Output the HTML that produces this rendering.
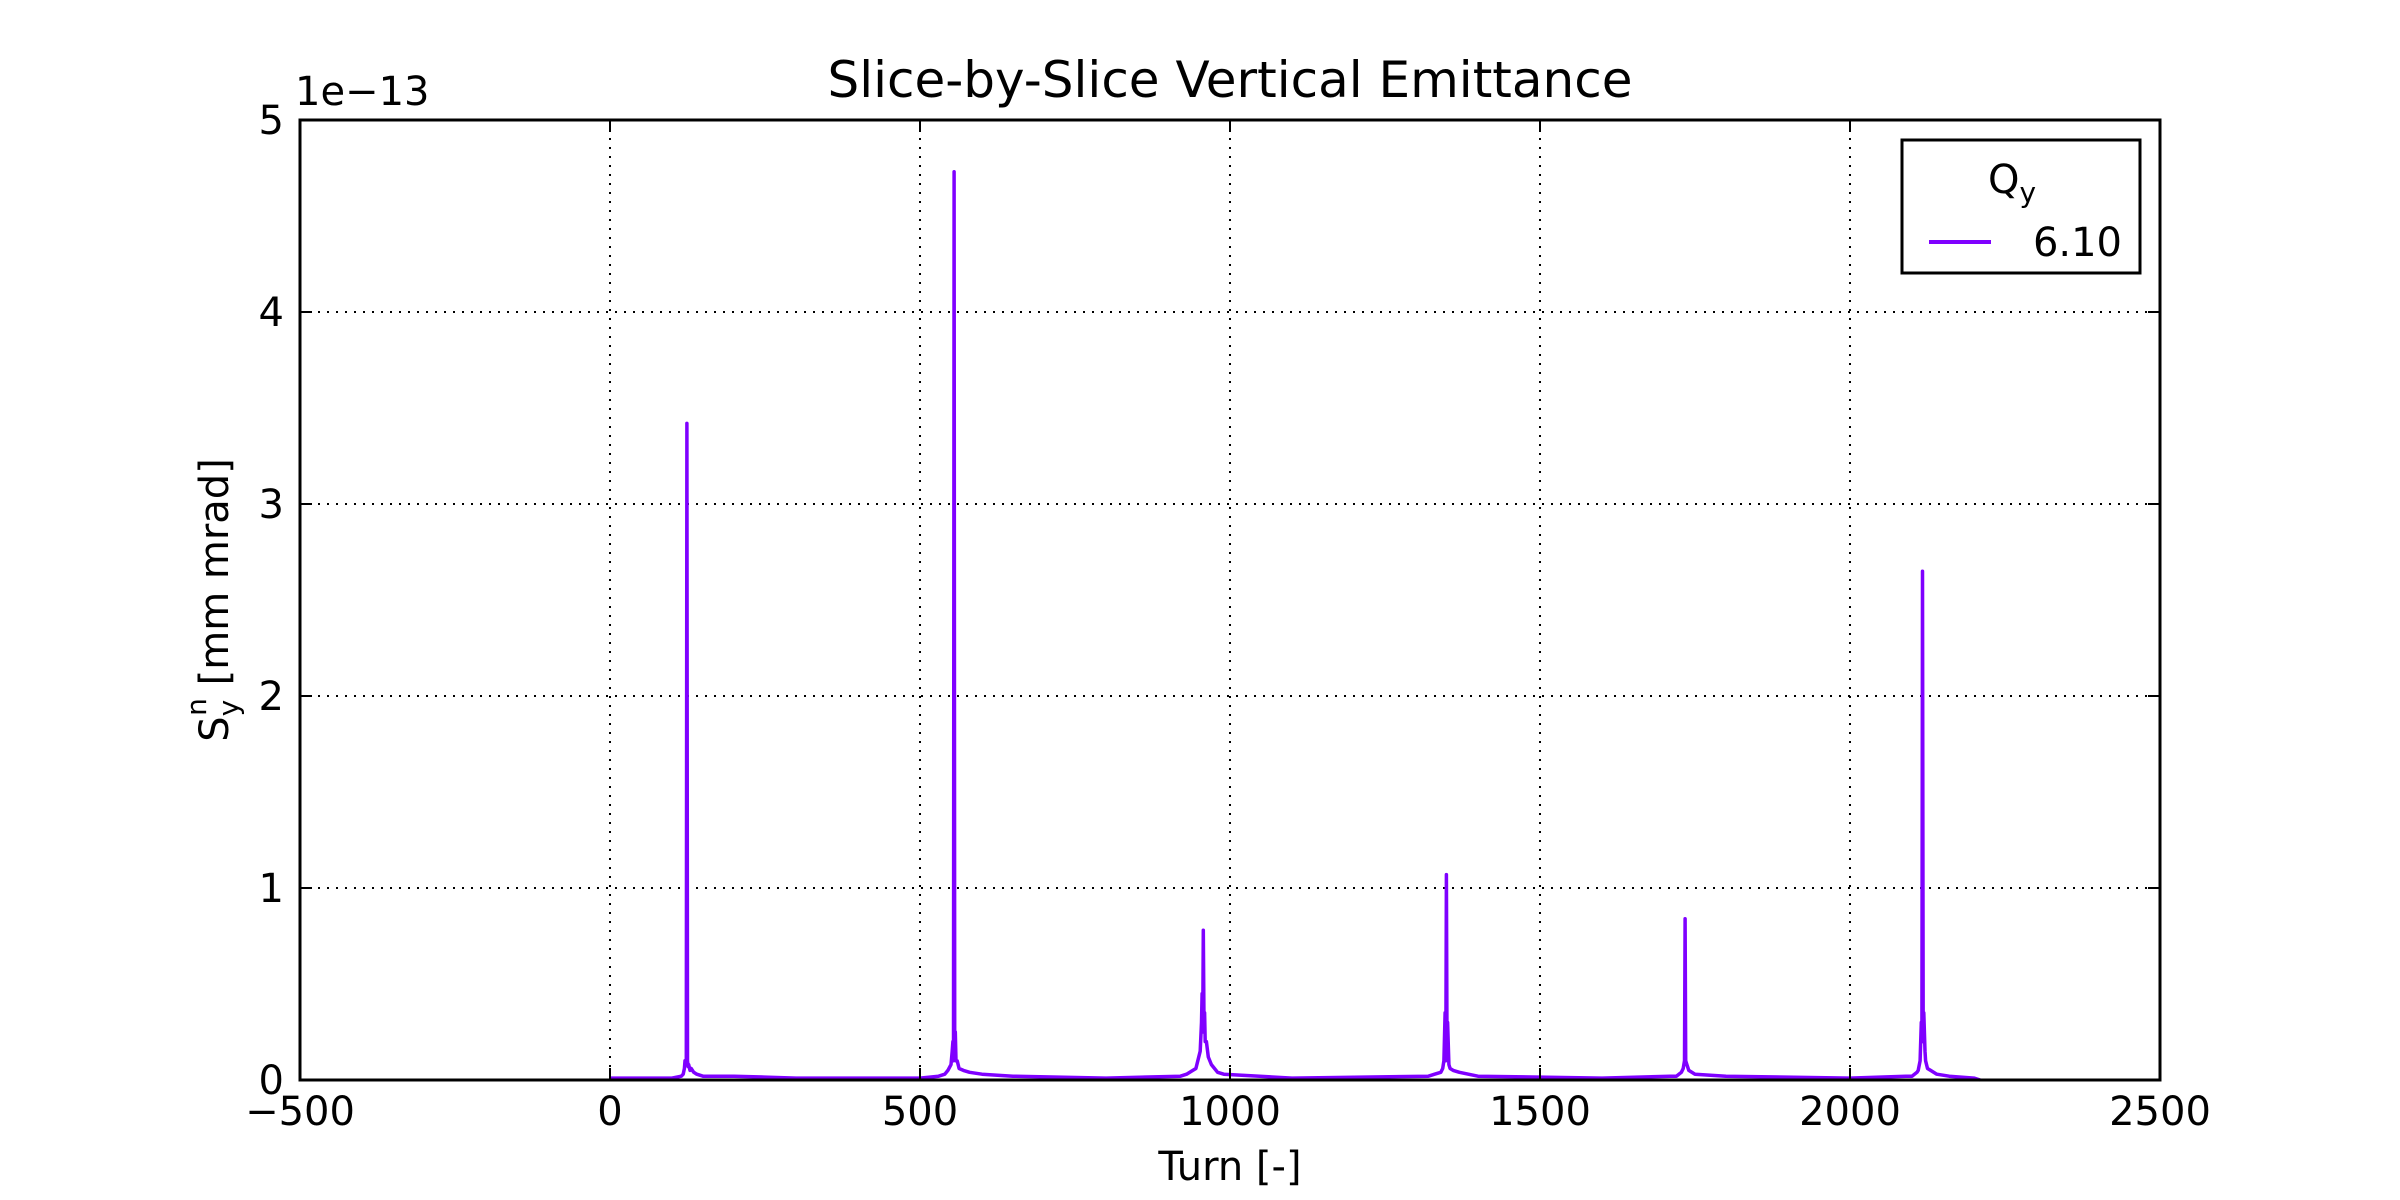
<!DOCTYPE html>
<html><head><meta charset="utf-8"><style>
html,body{margin:0;padding:0;background:#fff;}
svg{display:block;font-family:"DejaVu Sans","Liberation Sans",sans-serif;}
</style></head><body>
<svg id="chart" width="2400" height="1200" viewBox="0 0 2400 1200">
<rect width="2400" height="1200" fill="#fff"/>
<g id="grid"></g>
<g id="series"></g>
<rect x="300" y="120" width="1860" height="960" fill="none" stroke="#000" stroke-width="3"/>
<g id="ticks"></g>
<text x="1230" y="97" font-size="50" text-anchor="middle">Slice-by-Slice Vertical Emittance</text>
<text x="295" y="105" font-size="40">1e−13</text>
<text x="1230" y="1180" font-size="40" text-anchor="middle">Turn [-]</text>
<text transform="translate(228,600) rotate(-90)" font-size="40" text-anchor="middle">S<tspan font-size="28" dy="10">y</tspan><tspan font-size="28" dx="-16" dy="-32">n</tspan><tspan dy="22">  [mm mrad]</tspan></text>
<g>
<rect x="1902" y="140" width="238" height="133" fill="#fff" stroke="#000" stroke-width="3"/>
<text x="2012" y="193" font-size="40" text-anchor="middle">Q<tspan font-size="28" dy="9">y</tspan></text>
<line x1="1929" y1="242" x2="1991" y2="242" stroke="#7f00ff" stroke-width="4"/>
<text x="2122" y="256" font-size="40" text-anchor="end">6.10</text>
</g>
</svg>
<script>
const xTicks=[-500,0,500,1000,1500,2000,2500];
const yTicks=[0,1,2,3,4,5];
const turns=[0,100,115,118,120,121,122,123,124,125,126,127,129,131,135,140,150,170,200,250,300,500,530,540,545,550,552,553,554,555,556,557,558,560,563,570,580,600,650,800,920,930,940,945,948,952,954,955,956,957,958,959,960,962,965,970,980,990,1100,1320,1330,1340,1343,1345,1347,1348,1349,1350,1351,1353,1355,1360,1370,1400,1600,1710,1720,1728,1731,1733,1734,1735,1737,1740,1750,1800,2000,2090,2100,2108,2110,2113,2115,2116,2117,2118,2119,2121,2122,2125,2130,2140,2160,2200,2210];
const values=[0.01,0.01,0.02,0.03,0.06,0.1,0.08,0.1,3.42,0.1,0.07,0.08,0.05,0.06,0.04,0.03,0.02,0.02,0.02,0.015,0.01,0.01,0.02,0.03,0.05,0.08,0.15,0.2,0.1,4.73,0.2,0.25,0.1,0.1,0.06,0.05,0.04,0.03,0.02,0.01,0.02,0.03,0.05,0.06,0.1,0.15,0.3,0.45,0.25,0.78,0.3,0.35,0.2,0.2,0.12,0.08,0.04,0.03,0.01,0.02,0.03,0.04,0.06,0.1,0.35,0.1,1.07,0.2,0.3,0.08,0.06,0.05,0.04,0.02,0.01,0.02,0.02,0.04,0.06,0.1,0.84,0.1,0.08,0.05,0.03,0.02,0.01,0.02,0.02,0.04,0.05,0.1,0.3,0.2,2.65,0.2,0.35,0.15,0.1,0.06,0.05,0.03,0.02,0.01,0];
const NS='http://www.w3.org/2000/svg';
const X0=300,X1=2160,Y0=1080,Y1=120;
function sx(v){return X0+(v+500)/3000*(X1-X0);}
function sy(v){return Y0-v/5*(Y0-Y1);}
const grid=document.getElementById('grid'),ticks=document.getElementById('ticks'),ser=document.getElementById('series');
function mk(tag,attrs,parent){const e=document.createElementNS(NS,tag);for(const k in attrs)e.setAttribute(k,attrs[k]);parent.appendChild(e);return e;}
xTicks.forEach(t=>{const x=sx(t);
 if(t>-500&&t<2500){const g=mk('line',{x1:x,y1:Y1,x2:x,y2:Y0,stroke:'#000','stroke-width':2,'stroke-dasharray':'2,7'},grid);
 
 }
 const a=mk('line',{x1:x,y1:Y0,x2:x,y2:Y0-12,stroke:'#000','stroke-width':2},ticks);
 
 
 const b=mk('line',{x1:x,y1:Y1,x2:x,y2:Y1+12,stroke:'#000','stroke-width':2},ticks);
 
 
 const l=mk('text',{x:x,y:1125,'font-size':40,'text-anchor':'middle'},ticks);l.textContent=String(t).replace('-','−');
 
 
});
yTicks.forEach(t=>{const y=sy(t);
 if(t>0&&t<5){const g=mk('line',{x1:X0,y1:y,x2:X1,y2:y,stroke:'#000','stroke-width':2,'stroke-dasharray':'2,7'},grid);
 
 }
 const a=mk('line',{x1:X0,y1:y,x2:X0+12,y2:y,stroke:'#000','stroke-width':2},ticks);
 
 
 const b=mk('line',{x1:X1,y1:y,x2:X1-12,y2:y,stroke:'#000','stroke-width':2},ticks);
 
 
 const l=mk('text',{x:284,y:y+14,'font-size':40,'text-anchor':'end'},ticks);l.textContent=String(t);
 
 
});
const pts=turns.map((t,i)=>sx(t).toFixed(1)+','+sy(values[i]).toFixed(1)).join(' ');
const pl=mk('polyline',{points:pts,fill:'none',stroke:'#7f00ff','stroke-width':3.5,'stroke-linejoin':'round'},ser);


</script>
</body></html>
